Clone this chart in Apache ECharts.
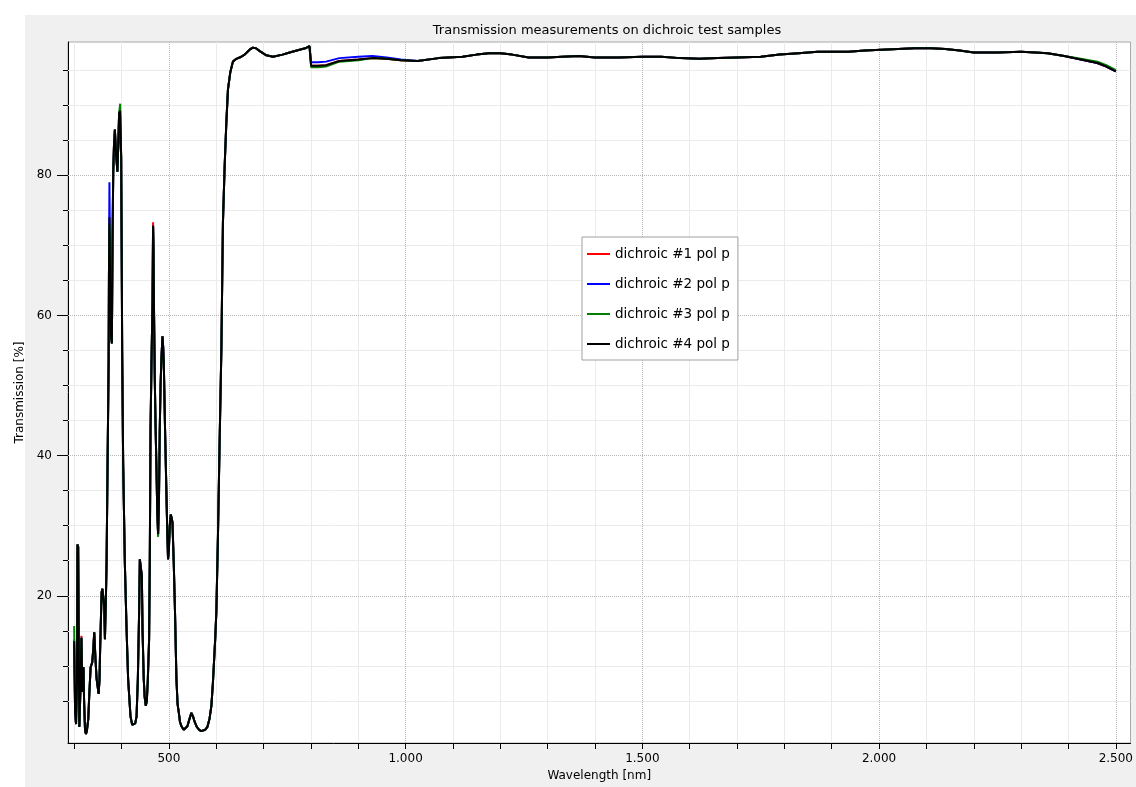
<!DOCTYPE html>
<html><head><meta charset="utf-8">
<script src="https://cdn.jsdelivr.net/npm/echarts@6/dist/echarts.min.js"></script>
<style>html,body{margin:0;padding:0;background:#fff}#c{width:1136px;height:787px}</style>
</head><body><div id="c"></div>
<script>
const wavelength = [
300,302,304,306,307,308.5,310,311,313,315.4,
317,318.5,319.7,321,323,325,327,329.8,332,334.8,
338.2,340.5,342.4,345,347.5,351.7,353.5,355,358,359.7,
362,363.5,365,367,368.5,370.6,372.8,373.5,374.5,376,
378,379.7,381,382.5,384,386,388.5,391.3,393,395,
397.2,399.3,400.8,401.4,403.5,407,410.7,414,419,422.5,
426,429,431.8,434.5,437.2,438.7,440,443,444.4,447,
449,451.3,453.5,455.6,458.3,459.8,461.3,463.5,465.5,466.7,
467.5,468.8,470.3,472,473.9,475.5,477.3,479,480.8,482.5,
484.4,486.5,488,489.3,492,495,496.7,498.3,500,502,
504,505.5,507.6,510.3,513,516,518.5,520.9,523.5,526.6,
531.4,535,539.2,543,547.6,551,554.6,559,563.7,568,
572,577,581.4,586,589.8,593,595.3,598,600.3,603.7,
607.3,610.9,614.2,617.8,621.4,624.8,629.8,635.3,642.5,653,
660,670.5,677.4,684,692,706,720,740,755,776,
788,797,799.5,800.5,815,832,860,900,930,960,
990,1025,1070,1120,1150,1176,1200,1225,1260,1300,
1330,1366,1400,1450,1500,1540,1580,1620,1660,1700,
1750,1790,1830,1870,1935,1970,2005,2040,2075,2110,
2140,2170,2200,2250,2300,2330,2356,2391,2426,2461,
2480,2500
];
const dichroic1 = [
13.8,3.4,1.7,8,27.3,27,10,1.3,6,14.3,
6.3,8,9.8,5,0.8,0.3,0.8,2.4,6,9.8,
10.5,12.5,14.8,11,8.1,6,8,12.8,20.5,21,
19.5,18.5,13.8,19.5,24.8,39,53.3,66,72,65,
57,56,70,80.3,84,86.5,83,80.5,84,88.9,
88.6,82.6,63.7,55,39,24.8,15.2,8.1,2.8,1.6,
1.4,1.8,2.8,8.1,17.7,25.2,24.5,22.8,15.2,8.1,
5.5,4.3,5,8.1,13.8,25.6,43.7,54,62,73.3,
70,59.8,50.9,44,38,32,28.8,33,43.7,50,
54,57,55.5,53.3,43.7,34.2,29,25.2,26.5,30,
31.6,31.2,30.5,24.8,17.7,8.1,4.5,3.4,2,1.4,
0.9,0.9,1.4,2.3,3.3,2.8,2,1.3,0.9,0.7,
0.7,0.9,1.3,2.5,4.3,7.5,10.5,14,17.7,28.5,
42.3,55.1,73.2,81.2,87.5,92.2,94.7,96.2,96.6,96.9,
97.2,97.9,98.2,98.1,97.7,97.1,96.9,97.2,97.5,97.9,
98.1,98.4,98.5,95.6,95.6,95.7,96.3,96.5,96.7,96.6,
96.4,96.3,96.7,96.9,97.2,97.4,97.4,97.2,96.8,96.8,
96.9,97.0,96.8,96.8,96.9,96.9,96.7,96.6,96.7,96.8,
96.9,97.2,97.4,97.6,97.6,97.8,97.9,98.0,98.1,98.1,
98.0,97.8,97.5,97.5,97.6,97.5,97.4,97.0,96.5,96.0,
95.5,94.8
];
const dichroic2 = [
13,3.4,1.7,8,27.3,27,10,1.3,6,14,
6.3,8,9.8,5,0.8,0.3,0.8,2.4,6,9.8,
10.5,12.5,14.8,11,8.1,6,8,12.8,20.5,21,
19.5,18.5,13.8,19.5,24.8,39,53.3,66,79,66,
57,56,70,80.3,84,86.5,83,80.5,84,88.9,
88.8,82.6,63.7,55,39,24.8,15.2,8.1,2.8,1.6,
1.4,1.8,2.8,8.1,17.7,25.2,24.5,22.8,15.2,8.1,
5.5,4.3,5,8.1,13.8,25.6,43.7,54,62,72.8,
70,59.8,50.9,44,38,32,28.8,33,43.7,50,
54,57,55.5,53.3,43.7,34.2,29,25.2,26.5,30,
31.6,31.2,30.5,24.8,17.7,8.1,4.5,3.4,2,1.4,
0.9,0.9,1.4,2.3,3.3,2.8,2,1.3,0.9,0.7,
0.7,0.9,1.3,2.5,4.3,7.5,10.5,14,17.7,28.5,
42.3,55.1,73.2,81.2,87.5,92.2,94.7,96.2,96.6,96.9,
97.2,97.9,98.2,98.1,97.7,97.1,96.9,97.2,97.5,97.9,
98.1,98.4,98.5,96.1,96.1,96.2,96.7,96.9,97.0,96.8,
96.5,96.3,96.7,96.9,97.2,97.4,97.4,97.2,96.8,96.8,
96.9,97.0,96.8,96.8,96.9,96.9,96.7,96.6,96.7,96.8,
96.9,97.2,97.4,97.6,97.6,97.8,97.9,98.0,98.1,98.1,
98.0,97.8,97.5,97.5,97.6,97.5,97.4,97.0,96.5,96.0,
95.5,94.8
];
const dichroic3 = [
15.7,4,1.7,8,27.3,27,10,1.3,6,14,
6.3,8,9.8,5,0.8,0.3,0.8,2.4,6,9.8,
10.5,12.5,14.8,11,8.1,6,8,12.8,20.5,21,
19.5,18.5,13.8,19.5,24.8,39,53.3,66,73,65,
57,56,70,80.3,84,86.5,83,80.5,84,88.9,
90.2,82.6,63.7,55,39,24.8,15.2,8.1,2.8,1.6,
1.4,1.8,2.8,8.1,17.7,25.2,24.5,22.8,15.2,8.1,
5.5,4.3,5,8.1,13.8,25.6,43.7,54,62,72.8,
70,59.8,50.9,44,38,32,28.4,33,43.7,50,
54,57,55.5,53.3,43.7,34.2,29,25.2,26.5,30,
31.6,31.2,30.5,24.8,17.7,8.1,4.5,3.4,2,1.4,
0.9,0.9,1.4,2.3,3.3,2.8,2,1.3,0.9,0.7,
0.7,0.9,1.3,2.5,4.3,7.5,10.5,14,17.7,28.5,
42.3,55.1,73.2,81.2,87.5,92.2,94.7,96.2,96.6,96.9,
97.2,97.9,98.2,98.1,97.7,97.1,96.9,97.2,97.5,97.9,
98.1,98.4,98.5,95.4,95.4,95.5,96.2,96.4,96.7,96.6,
96.4,96.3,96.7,96.9,97.2,97.4,97.4,97.2,96.8,96.8,
96.9,97.0,96.8,96.8,96.9,96.9,96.7,96.6,96.7,96.8,
96.9,97.2,97.4,97.6,97.6,97.8,97.9,98.0,98.1,98.1,
98.0,97.8,97.5,97.5,97.6,97.5,97.4,97.0,96.6,96.2,
95.7,95.0
];
const dichroic4 = [
13.5,3.4,1.7,8,27.3,27,10,1.3,6,14,
6.3,8,9.8,5,0.8,0.3,0.8,2.4,6,9.8,
10.5,12.5,14.8,11,8.1,6,8,12.8,20.5,21,
19.5,18.5,13.8,19.5,24.8,39,53.3,66,74,65,
57,56,70,80.3,84,86.5,83,80.5,84,88.9,
89.2,82.6,63.7,55,39,24.8,15.2,8.1,2.8,1.6,
1.4,1.8,2.8,8.1,17.7,25.2,24.5,22.8,15.2,8.1,
5.5,4.3,5,8.1,13.8,25.6,43.7,54,62,72.8,
70,59.8,50.9,44,38,32,28.8,33,43.7,50,
54,57,55.5,53.3,43.7,34.2,29,25.2,26.5,30,
31.6,31.2,30.5,24.8,17.7,8.1,4.5,3.4,2,1.4,
0.9,0.9,1.4,2.3,3.3,2.8,2,1.3,0.9,0.7,
0.7,0.9,1.3,2.5,4.3,7.5,10.5,14,17.7,28.5,
42.3,55.1,73.2,81.2,87.5,92.2,94.7,96.2,96.6,96.9,
97.2,97.9,98.2,98.1,97.7,97.1,96.9,97.2,97.5,97.9,
98.1,98.4,98.5,95.6,95.6,95.7,96.3,96.5,96.7,96.6,
96.4,96.3,96.7,96.9,97.2,97.4,97.4,97.2,96.8,96.8,
96.9,97.0,96.8,96.8,96.9,96.9,96.7,96.6,96.7,96.8,
96.9,97.2,97.4,97.6,97.6,97.8,97.9,98.0,98.1,98.1,
98.0,97.8,97.5,97.5,97.6,97.5,97.4,97.0,96.5,96.0,
95.5,94.8
];
const seriesNames = ['dichroic #1 pol p','dichroic #2 pol p','dichroic #3 pol p','dichroic #4 pol p'];
const seriesColors = ['#ff0000','#0000ff','#008000','#000000'];
const xTickValues = [300,400,500,600,700,800,900,1000,1100,1200,1300,1400,1500,1600,1700,1800,1900,2000,2100,2200,2300,2400,2500];
const xLabelValues = [500,1000,1500,2000,2500];
const xMinorGrid = [300,400,600,700,800,900,1100,1200,1300,1400,1600,1700,1800,1900,2100,2200,2300,2400];
const xMajorGrid = [500,1000,1500,2000,2500];
const yLabelValues = [20,40,60,80];
const yMinorTicks = [5,10,15,25,30,35,45,50,55,65,70,75,85,90,95];
const yMinorGrid = [5,10,15,25,30,35,45,50,55,65,70,75,85,90,95];
const yMajorGrid = [20,40,60,80];

const FONT = 'DejaVu Sans';
const fmtX = v => v >= 1000 ? Math.floor(v/1000) + '.' + String(v % 1000).padStart(3,'0') : String(v);

const chart = echarts.init(document.getElementById('c'), null, {renderer:'canvas'});
const seriesArrays = [dichroic1, dichroic2, dichroic3, dichroic4];

const gridMarks = [];
xMinorGrid.forEach(v => gridMarks.push({xAxis: v, lineStyle:{color:'#ebebeb', type:'solid', width:1}}));
yMinorGrid.forEach(v => gridMarks.push({yAxis: v, lineStyle:{color:'#ebebeb', type:'solid', width:1}}));
xMajorGrid.forEach(v => gridMarks.push({xAxis: v, lineStyle:{color:'#b8b8b8', type:'dotted', width:1}}));
yMajorGrid.forEach(v => gridMarks.push({yAxis: v, lineStyle:{color:'#b8b8b8', type:'dotted', width:1}}));

const series = [{
  name: '__grid', type: 'line', data: [], z: 1, silent: true, animation: false,
  markLine: { z: 1, silent: true, symbol: ['none','none'], animation: false, label: {show:false},
    emphasis: {disabled: true}, data: gridMarks }
}];
seriesArrays.forEach((arr, k) => {
  series.push({
    name: seriesNames[k], type: 'line', showSymbol: false, symbol: 'none', z: 3 + k,
    animation: false, silent: true,
    lineStyle: {color: seriesColors[k], width: 2},
    itemStyle: {color: seriesColors[k]},
    data: wavelength.map((w, i) => [w, arr[i]])
  });
});

chart.setOption({
  backgroundColor: '#f0f0f0',
  animation: false,
  graphic: [
    {type:'rect', shape:{x:0,y:0,width:1136,height:15}, style:{fill:'#ffffff'}, z:-10, silent:true},
    {type:'rect', shape:{x:0,y:0,width:25,height:787}, style:{fill:'#ffffff'}, z:-10, silent:true}
  ],
  title: {
    text: 'Transmission measurements on dichroic test samples',
    left: 602, top: 19, textAlign: 'center',
    textStyle: {fontFamily: FONT, fontSize: 13, fontWeight: 'normal', color: '#000'}
  },
  grid: {left: 68, top: 42, right: 3, bottom: 43, show: true, backgroundColor: '#ffffff',
         borderColor: '#a8a8a8', borderWidth: 1},
  legend: {
    z: 20,
    data: seriesNames, orient: 'vertical', left: 582, top: 237,
    icon: 'path://M0,0L23,0L23,2L0,2Z',
    itemWidth: 23, itemHeight: 14, itemGap: 16, padding: [10, 8, 9, 5],
    backgroundColor: '#ffffff', borderColor: '#a0a0a0', borderWidth: 1, borderRadius: 0,
    textStyle: {fontFamily: FONT, fontSize: 13.5, color: '#000'},
    selectedMode: false
  },
  xAxis: {
    type: 'value', min: 287, max: 2531,
    name: 'Wavelength [nm]', nameLocation: 'middle', nameGap: 27,
    nameTextStyle: {fontFamily: FONT, fontSize: 12, color: '#000'},
    axisLine: {show: true, onZero: false, lineStyle: {color: '#000', width: 1}},
    axisTick: {show: true, customValues: xTickValues, length: 6, lineStyle: {color: '#000'}},
    axisLabel: {show: true, customValues: xLabelValues, formatter: fmtX, margin: 10,
      fontFamily: FONT, fontSize: 12, color: '#000'},
    splitLine: {show: false}
  },
  yAxis: [{
    type: 'value', min: -1, max: 99, position: 'left',
    name: 'Transmission [%]', nameLocation: 'middle', nameGap: 26, nameRotate: 90,
    nameTextStyle: {fontFamily: FONT, fontSize: 12, color: '#000'},
    axisLine: {show: true, onZero: false, lineStyle: {color: '#000', width: 1}},
    axisTick: {show: true, customValues: yLabelValues, length: 11, lineStyle: {color: '#000'}},
    axisLabel: {show: true, customValues: yLabelValues, margin: 16,
      fontFamily: FONT, fontSize: 12, color: '#000'},
    splitLine: {show: false}
  }, {
    type: 'value', min: -1, max: 99, position: 'left', offset: 0,
    axisLine: {show: false},
    axisTick: {show: true, customValues: yMinorTicks, length: 5, lineStyle: {color: '#000'}},
    axisLabel: {show: false},
    splitLine: {show: false}
  }],
  series: series
});
</script>
</body></html>
